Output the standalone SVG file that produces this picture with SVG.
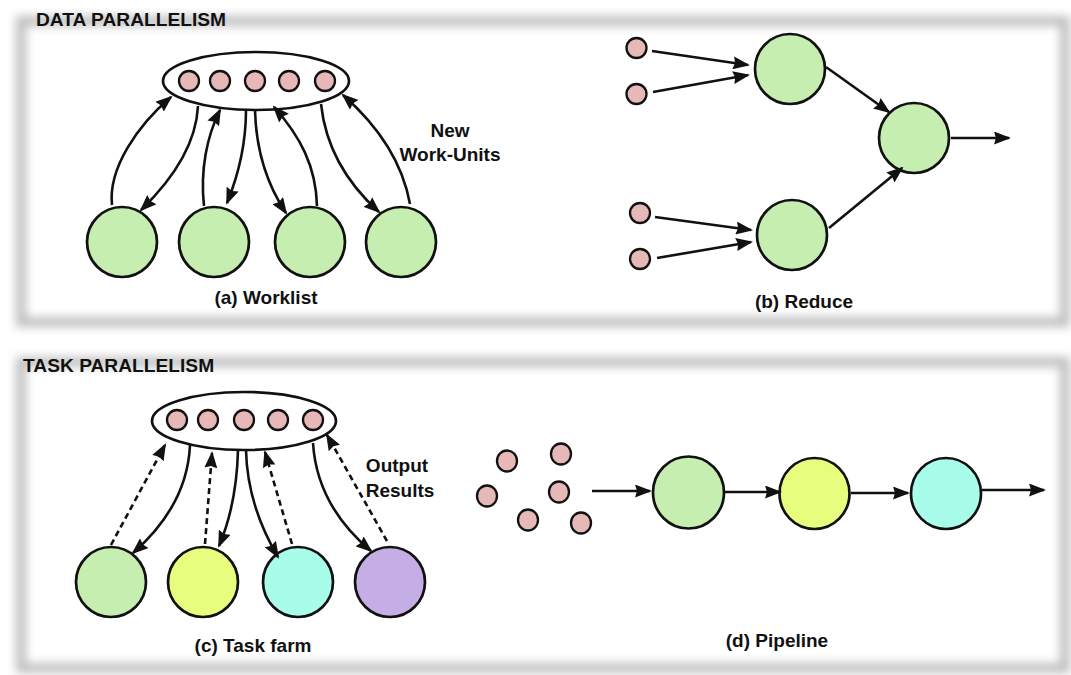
<svg xmlns="http://www.w3.org/2000/svg" width="1071" height="675" viewBox="0 0 1071 675">
  <style>
    .frame { fill: none; stroke: #c0c0c0; stroke-width: 10; filter: url(#soft); }
    .lbl { font-family: "Liberation Sans", Arial, sans-serif; font-weight: bold; font-size: 19px; fill: #111; }
    .hdr { font-family: "Liberation Sans", Arial, sans-serif; font-weight: bold; font-size: 19.2px; fill: #111; }
    .item { fill: #e6b9b8; stroke: #111; stroke-width: 2.3; }
    .pool { fill: #fff; stroke: #111; stroke-width: 2.7; }
    .node { stroke: #111; stroke-width: 2.7; }
    .green { fill: #c5eeb0; }
    .yellow { fill: #e6fd7e; }
    .cyan { fill: #a8fcea; }
    .purple { fill: #c5aee6; }
    .edge { fill: none; stroke: #111; stroke-width: 2.6; marker-end: url(#head); }
    .dash { stroke-dasharray: 6 4; }
  </style>
  <defs>
    <filter id="soft" x="-5%" y="-15%" width="110%" height="130%">
      <feGaussianBlur stdDeviation="5"/>
    </filter>
    <marker id="head" markerUnits="userSpaceOnUse" markerWidth="17" markerHeight="13" refX="15" refY="6.5" orient="auto">
      <path d="M0,0 L17,6.5 L0,13 L2,6.5 z" fill="#111"/>
    </marker>
  </defs>

  <rect width="1071" height="675" fill="#fff"/>

  <!-- panel frames -->
  <g id="panel-data">
    <rect class="frame" x="21" y="21" width="1044" height="301"/>
    <text class="hdr" x="36" y="26">DATA PARALLELISM</text>
  </g>
  <g id="panel-task">
    <rect class="frame" x="21" y="362" width="1044" height="306"/>
    <text class="hdr" x="23" y="372">TASK PARALLELISM</text>
  </g>

  <!-- (a) worklist -->
  <g id="worklist-pool">
    <ellipse class="pool" cx="256" cy="81" rx="93" ry="29"/>
    <circle class="item" cx="189" cy="81" r="10"/>
    <circle class="item" cx="220" cy="81" r="10"/>
    <circle class="item" cx="255" cy="81" r="10"/>
    <circle class="item" cx="289" cy="81" r="10"/>
    <circle class="item" cx="325" cy="81" r="10"/>
  </g>
  <g id="worker-a1"><circle class="node green" cx="122" cy="242" r="35"/></g>
  <g id="worker-a2"><circle class="node green" cx="214" cy="242" r="35"/></g>
  <g id="worker-a3"><circle class="node green" cx="310" cy="242" r="35"/></g>
  <g id="worker-a4"><circle class="node green" cx="401" cy="242" r="35"/></g>
  <text class="lbl" x="450" y="137" text-anchor="middle">New</text>
  <text class="lbl" x="450" y="161" text-anchor="middle">Work-Units</text>
  <text class="lbl" x="266" y="304" text-anchor="middle">(a) Worklist</text>

  <!-- (b) reduce -->
  <g id="reduce-in1"><circle class="item" cx="636.5" cy="48" r="10"/></g>
  <g id="reduce-in2"><circle class="item" cx="636.5" cy="94" r="10"/></g>
  <g id="reduce-in3"><circle class="item" cx="640" cy="213" r="10"/></g>
  <g id="reduce-in4"><circle class="item" cx="640" cy="259" r="10"/></g>
  <g id="reduce-top"><circle class="node green" cx="790" cy="69" r="35"/></g>
  <g id="reduce-root"><circle class="node green" cx="914" cy="138" r="35"/></g>
  <g id="reduce-bottom"><circle class="node green" cx="792" cy="235" r="35"/></g>
  <text class="lbl" x="804" y="308" text-anchor="middle">(b) Reduce</text>

  <!-- (c) task farm -->
  <g id="farm-pool">
    <ellipse class="pool" cx="244" cy="421" rx="92" ry="29"/>
    <circle class="item" cx="177" cy="420" r="10"/>
    <circle class="item" cx="208" cy="420" r="10"/>
    <circle class="item" cx="244" cy="420" r="10"/>
    <circle class="item" cx="278" cy="420" r="10"/>
    <circle class="item" cx="313" cy="420" r="10"/>
  </g>
  <g id="farm-w1"><circle class="node green" cx="111" cy="582" r="35"/></g>
  <g id="farm-w2"><circle class="node yellow" cx="203" cy="582" r="35"/></g>
  <g id="farm-w3"><circle class="node cyan" cx="298" cy="582" r="35"/></g>
  <g id="farm-w4"><circle class="node purple" cx="390" cy="582" r="35"/></g>
  <text class="lbl" x="397" y="472" text-anchor="middle">Output</text>
  <text class="lbl" x="400" y="497" text-anchor="middle">Results</text>
  <text class="lbl" x="253" y="652" text-anchor="middle">(c) Task farm</text>

  <!-- (d) pipeline -->
  <g id="pipe-items">
    <ellipse class="item" cx="507" cy="461" rx="10" ry="10.5"/>
    <ellipse class="item" cx="561" cy="454" rx="10" ry="10.5"/>
    <ellipse class="item" cx="487" cy="496" rx="10" ry="10.5"/>
    <ellipse class="item" cx="559" cy="492" rx="10" ry="10.5"/>
    <ellipse class="item" cx="528" cy="520" rx="10" ry="10.5"/>
    <ellipse class="item" cx="581" cy="523" rx="10" ry="10.5"/>
  </g>
  <g id="stage-1"><ellipse class="node green" cx="688.5" cy="492.5" rx="35.5" ry="36"/></g>
  <g id="stage-2"><ellipse class="node yellow" cx="814.5" cy="493.5" rx="35" ry="35.5"/></g>
  <g id="stage-3"><ellipse class="node cyan" cx="946" cy="493.5" rx="35" ry="35.5"/></g>
  <text class="lbl" x="777" y="647" text-anchor="middle">(d) Pipeline</text>

  <g id="connectors">
    <!-- worklist: take / return -->
    <path class="edge" d="M112,205 C108,168 138,125 171,97"/>
    <path class="edge" d="M198,106 C196,146 170,182 141,210"/>
    <path class="edge" d="M204,206 C200,170 207,136 220,110"/>
    <path class="edge" d="M246,110 C246,146 238,176 227,203"/>
    <path class="edge" d="M255,110 C256,150 268,186 286,213"/>
    <path class="edge" d="M317,206 C316,166 300,136 274,107"/>
    <path class="edge" d="M321,104 C326,150 350,186 379,212"/>
    <path class="edge" d="M410,204 C402,160 376,124 343,95"/>

    <!-- reduce -->
    <path class="edge" d="M652,51 L748,65"/>
    <path class="edge" d="M653,92 L748,75"/>
    <path class="edge" d="M655,217 L751,230"/>
    <path class="edge" d="M657,258 L751,242"/>
    <path class="edge" d="M826,67 L889,112"/>
    <path class="edge" d="M829,228 L902,168"/>
    <path class="edge" d="M951,138 L1009,138"/>

    <!-- task farm: dispatch (solid) and results (dashed) -->
    <path class="edge dash" d="M111,545 L165,445"/>
    <path class="edge" d="M190,445 C188,490 165,525 133,553"/>
    <path class="edge dash" d="M205,544 L212,453"/>
    <path class="edge" d="M238,450 C237,490 230,520 219,546"/>
    <path class="edge" d="M246,450 C247,495 262,530 278,557"/>
    <path class="edge dash" d="M292,544 L265,452"/>
    <path class="edge" d="M313,443 C316,490 340,525 371,551"/>
    <path class="edge dash" d="M387,541 L327,435"/>

    <!-- pipeline -->
    <path class="edge" d="M592,491 L650,491"/>
    <path class="edge" d="M724,492 L780,492"/>
    <path class="edge" d="M851,493 L908,493"/>
    <path class="edge" d="M982,490 L1044,490"/>
  </g>
</svg>
